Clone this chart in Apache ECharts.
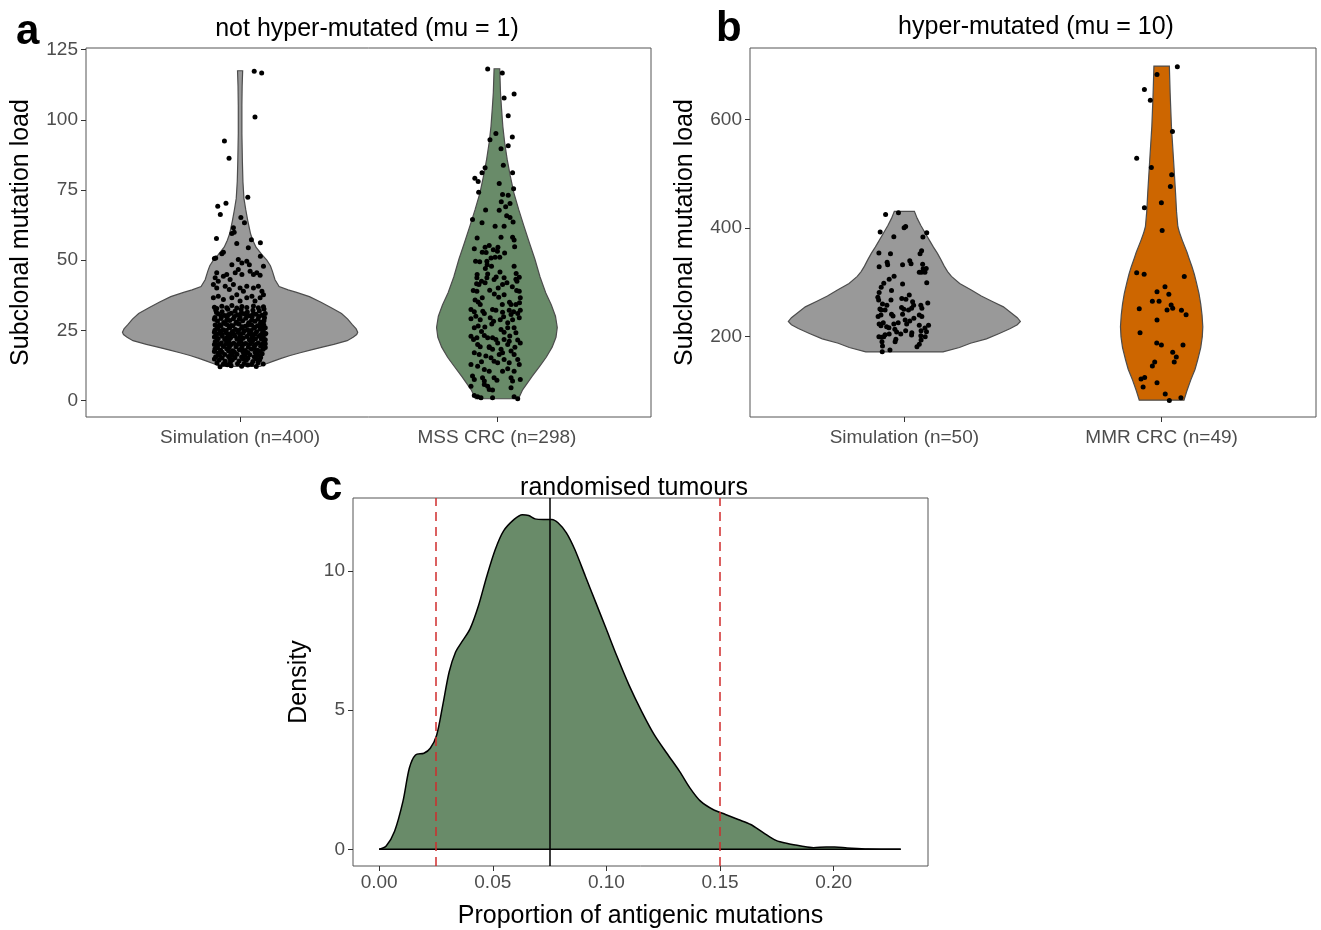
<!DOCTYPE html>
<html><head><meta charset="utf-8">
<script src="https://cdn.jsdelivr.net/npm/echarts@6/dist/echarts.min.js"></script>
<style>html,body{margin:0;padding:0;background:#fff}#c{width:1321px;height:930px}</style>
</head><body><div id="c"></div><script>
const FF = "'Liberation Sans', Arial, Helvetica, sans-serif";

// ---------- panel a ----------
const catsA = ['Simulation (n=400)', 'MSS CRC (n=298)'];
const yTicksA = [0, 25, 50, 75, 100, 125];
// violin outlines: [value, half width in category units]
const simAViolin = [[12.1,0.078],[13,0.10],[14,0.13],[15,0.16],[16,0.195],[17,0.234],[18,0.277],[19,0.32],[20,0.365],[21.3,0.417],[22.5,0.44],[23.5,0.454],[24.3,0.458],[25.5,0.452],[27,0.437],[29,0.419],[31,0.395],[33,0.355],[35,0.315],[37,0.27],[38.5,0.22],[39.4,0.187],[40.6,0.152],[43,0.136],[46,0.126],[48,0.118],[50,0.104],[52,0.085],[54.6,0.062],[57,0.05],[59.3,0.041],[64,0.03],[68,0.022],[72,0.015],[78,0.011],[85,0.009],[95,0.007],[105,0.007],[112,0.008],[117.5,0.010]];
const mssViolin = [[0.6,0.084],[3.8,0.1],[8.6,0.137],[12,0.165],[15.4,0.192],[19,0.215],[22.5,0.23],[26,0.235],[30,0.228],[34,0.212],[38.4,0.19],[44,0.168],[50.3,0.148],[56,0.127],[62.2,0.105],[68,0.085],[74,0.066],[80,0.052],[85.9,0.04],[92,0.03],[97.7,0.023],[104,0.018],[109.6,0.014],[118.2,0.011]];
// jittered points: [horizontal jitter (category units), value]
const simAPts = [
[0.055,117.3],[0.084,116.7],[0.058,101],[-0.061,92.5],[-0.043,86.3],[0.030,72.4],[-0.087,69.2],[-0.055,70.3],[-0.077,66.3],[0.003,65.2],[0.017,63.3],[-0.026,61.5],[-0.032,59.5],[-0.023,59.9],[-0.092,57.7],[0.044,57.3],[0.079,56.2],[-0.013,55.9],[0.032,54.4],[-0.065,52.8],[-0.071,52.3],[-0.095,50.8],[-0.1,50.6],[0.079,51.4],
[-0.032,48.4],[-0.007,50.2],[0.007,49],[0.026,49.6],[0.036,48.4],[0.091,47.8],[-0.091,45.5],[-0.097,43.7],[-0.085,42.5],[-0.065,44.3],[-0.052,44.9],[-0.039,43.1],[-0.019,45.5],[-0.007,46.7],[0.007,44.9],[0.039,46],[0.052,44.9],[0.065,45.5],[0.078,44.6],
[-0.104,41.3],[-0.091,40.1],[-0.058,40.7],[-0.042,39.5],[-0.026,41.3],[0,40.1],[0.013,38.9],[0.026,40.7],[0.052,40.1],[0.071,40.7],[0.085,38.9],
[-0.104,36.6],[-0.085,37.1],[-0.065,36],[-0.032,36.6],[-0.013,37.7],[0,35.4],[0.026,36.6],[0.046,37.1],[0.058,35.4],[0.078,36.6],[0.091,37.7],
[-0.1,33.2],[-0.091,32.8],[-0.071,33.6],[-0.052,33.0],[-0.032,33.8],[-0.013,32.9],[0.007,33.5],[0.026,33.1],[0.052,33.7],[0.071,33.0],[0.091,33.4],
[-0.095,32.2],[-0.07,31.6],[-0.048,32.5],[-0.02,31.8],[0.004,32.4],[0.028,31.5],[0.05,32.1],[0.075,31.9],[0.093,32.6],
[-0.085,30.8],[-0.06,30.3],[-0.035,31.1],[-0.01,30.5],[0.015,30.9],[0.04,30.2],[0.062,30.7],[0.085,30.4],
[-0.073,30.0],[-0.022,29.9],[0.028,30.1],[0.073,29.9],
[-0.098,29.6],[-0.074,29.2],[-0.05,29.9],[-0.026,29.1],[0,29.7],[0.022,29.3],[0.047,29.8],[0.07,29.0],[0.095,29.5],
[-0.088,28.3],[-0.064,27.8],[-0.04,28.5],[-0.014,27.9],[0.01,28.4],[0.034,27.7],[0.058,28.2],[0.081,27.9],
[-0.06,27.4],[-0.016,27.5],[0.033,27.3],[0.08,27.5],
[-0.097,26.9],[-0.075,26.5],[-0.052,27.1],[-0.028,26.6],[-0.004,27.2],[0.02,26.4],[0.045,26.9],[0.068,26.6],[0.092,27.0],
[-0.085,26.2],[-0.04,26.0],[0.008,26.3],[0.057,26.1],[0.083,26.0],
[-0.09,25.6],[-0.066,25.2],[-0.042,25.9],[-0.018,25.3],[0.006,25.7],[0.03,25.1],[0.054,25.8],[0.078,25.4],[0.098,25.9],
[-0.1,24.3],[-0.078,24.7],[-0.055,24.1],[-0.03,24.6],[-0.008,24.2],[0.017,24.8],[0.04,24.0],[0.064,24.5],[0.088,24.2],
[-0.082,23.9],[-0.036,23.8],[0.012,24.0],[0.058,23.7],[0.1,23.9],
[-0.093,23.4],[-0.069,22.9],[-0.046,23.6],[-0.021,23.0],[0.002,23.5],[0.026,22.8],[0.05,23.3],[0.073,22.9],[0.096,23.6],
[-0.1,22.6],[-0.05,22.5],[-0.002,22.7],[0.046,22.4],[0.09,22.5],
[-0.085,22.1],[-0.06,21.7],[-0.037,22.3],[-0.012,21.8],[0.012,22.2],[0.036,21.6],[0.06,22.0],[0.083,21.8],
[-0.097,20.9],[-0.073,20.5],[-0.05,21.1],[-0.025,20.4],[-0.002,20.8],[0.022,20.3],[0.046,20.9],[0.07,20.5],[0.094,21.0],
[-0.08,20.0],[-0.035,19.9],[0.014,20.1],[0.06,19.9],[0.098,20.2],
[-0.089,19.6],[-0.065,19.2],[-0.04,19.8],[-0.016,19.1],[0.008,19.5],[0.032,19.0],[0.056,19.6],[0.08,19.3],
[-0.098,18.3],[-0.076,17.9],[-0.052,18.4],[-0.028,17.7],[-0.003,18.1],[0.02,17.8],[0.044,18.3],[0.068,17.9],[0.09,18.2],
[-0.07,17.2],[-0.022,17.3],[0.03,17.1],[0.078,17.4],
[-0.086,16.9],[-0.06,16.4],[-0.036,17.0],[-0.012,16.5],[0.014,16.8],[0.038,16.3],[0.062,16.9],[0.086,16.6],
[-0.095,15.6],[-0.07,15.1],[-0.045,15.7],[-0.02,15.2],[0.006,15.5],[0.03,15.0],[0.055,15.6],[0.08,15.3],
[-0.082,14.4],[-0.058,14.0],[-0.03,14.5],[-0.004,14.1],[0.024,14.3],[0.05,13.9],[0.076,14.4],
[-0.09,13.3],[-0.065,13.0],[-0.038,13.5],[-0.01,13.1],[0.016,13.2],[0.045,12.9],[0.07,13.4],[0.09,13.0],
[-0.078,12.0],[0.006,12.2],[0.063,12.1],[-0.035,12.4],
[-0.092,31.3],[-0.045,30.6],[0.005,31.2],[0.052,30.9],[0.098,31.0],
[-0.1,28.9],[-0.052,28.7],[-0.003,28.9],[0.045,28.6],[0.093,28.4],
[-0.08,27.0],[-0.036,26.7],[0.03,26.8],[0.085,26.9],
[-0.098,25.0],[-0.054,24.9],[-0.006,24.9],[0.043,24.9],[0.09,25.0],
[-0.072,23.8],[-0.025,23.7],[0.035,23.7],[0.08,23.4],
[-0.09,21.4],[-0.043,21.3],[0.003,21.4],[0.05,21.5],[0.098,21.6],
[-0.1,19.9],[-0.055,20.1],[-0.008,20.0],[0.04,20.2],[0.085,20.0],
[-0.088,18.8],[-0.042,18.9],[0.007,18.7],[0.055,18.8],[0.098,18.9],
[-0.1,17.4],[-0.045,17.6],[0.01,17.5],[0.058,17.3],
[-0.08,16.0],[-0.03,16.1],[0.02,16.0],[0.07,16.1],
[-0.1,14.8],[-0.04,14.9],[0.012,14.8],[0.062,14.9],
[-0.05,12.7],[0.03,12.6]
];
const mssPts = [
[-0.036,118.1],[0.021,116.7],[0.067,109.2],[0.028,107.8],[0.044,101.5],[-0.004,95.1],[0.060,93.9],[-0.027,92.9],[0.044,90.8],[0.016,89.7],[0.025,83.8],[-0.046,82.9],[-0.058,81.1],[0.061,81.1],[-0.086,79.2],[-0.073,78],[0.009,77.3],[0.065,75.4],[-0.071,74.2],[0.022,73.4],[0.044,73.1],[0.017,70.8],[0.051,70.2],[0.034,69],[-0.044,67.9],[0.009,67.8],[0.038,65.8],[0.051,65.2],[0.063,63.6],[-0.095,64.5],[-0.058,63.3],[-0.007,62.1],[0.028,62.1],
[-0.077,57.9],[0.016,58.2],[0.061,58.2],[0.067,57.2],[-0.088,54.1],[-0.046,54.6],[-0.030,55.2],[0.004,54.6],[0.002,53.2],[-0.014,53.7],[-0.057,52.8],[-0.042,52.7],[0.069,54.8],[-0.023,50.8],[-0.007,51],[0.011,51],[-0.039,49.6],[-0.038,48.4],[-0.083,49.6],[-0.067,49.4],[-0.021,47.8],[0.067,47.8],
[-0.077,44.9],[-0.078,43.7],[-0.036,45.1],[-0.039,43.7],[-0.003,44],[-0.011,43.1],[0.028,43.7],[0.075,45.2],[0.087,43.9],[0.074,43.2],[-0.060,42.5],[-0.046,41.9],[-0.079,41.6],[-0.070,41.3],[0.022,41.3],[0.039,41.9],[0.078,42.5],[0.005,40.1],[-0.028,39.3],[-0.092,39.2],[-0.078,38.9],[0.077,39.2],[0.087,38.9],[0.028,37.7],[-0.057,36.6],[0.007,36.8],[0.091,36.6],[-0.073,35.1],[-0.065,34.2],[0.049,35],[0.055,34.2],[0.074,34.2],[0.088,34.8],[0.021,34.2],[-0.017,32.4],[-0.004,32.1],[-0.101,32.4],[-0.088,31.6],[0.048,32.1],[0.065,31.6],[-0.055,31.8],[0.022,31.4],[0.091,32.1],
[-0.049,31.0],[0.055,30.6],[0.081,31.0],
[-0.101,29.1],[-0.082,30],[-0.065,28.8],[-0.026,29.5],[-0.013,28.2],[0.013,28.8],[0.026,29.8],[0.042,27.7],[0.061,28.8],[0.087,29.5],[-0.088,25.9],[-0.073,26.5],[-0.047,26.2],[0.016,25.3],[0.028,24.3],[0.042,25.9],[0.067,25.9],[0.074,24.1],
[-0.101,22.9],[-0.091,21.7],[-0.078,22.3],[-0.049,23.1],[-0.036,22.3],[-0.017,22.3],[-0.004,21.7],[0.003,20.5],[0.028,21.7],[0.048,21.1],[0.042,19.9],[0.081,21.5],[0.091,20.5],[-0.075,19.9],[-0.065,19.1],[-0.030,19.1],[-0.017,18.2],[0.016,18.2],[0.022,17],[0.009,16.4],[0.055,17.6],[0.067,16.4],[-0.088,17],[-0.069,16.4],[-0.043,15.8],[-0.023,15.2],[-0.011,14],[0.003,13.4],[0.028,14.6],[0.048,13.4],[0.081,14.6],[0.087,12.8],[-0.101,12.8],[-0.075,12.2],[-0.049,11],[-0.030,10.4],[0.022,10.4],[0.042,11.3],[0.067,10.4],
[-0.095,8.7],[-0.088,7.5],[-0.056,8.1],[-0.049,6.9],[-0.011,8.1],[0,7.2],[0.055,8.1],[0.061,6.9],[0.091,7.5],[-0.101,5.1],[-0.049,5.7],[-0.036,5.1],[-0.030,3.9],[-0.017,3.7],[0.055,4.5],[-0.088,1.8],[-0.075,1.3],[-0.062,1],[-0.017,1],[0.067,1.3],[0.081,0.6],
[-0.06,24.6],[-0.02,27.2],[0.05,23.0],[-0.085,35.8],[0.012,45.8],[-0.01,37.9],[0.06,40.5],[-0.045,47.0],[0.03,52.5],[-0.03,18.9],[0.07,19.0],[-0.06,13.8]
];

// ---------- panel b ----------
const catsB = ['Simulation (n=50)', 'MMR CRC (n=49)'];
const yTicksB = [200, 400, 600];
const simBViolin = [[172,0.15],[180,0.214],[188,0.257],[196,0.319],[206,0.369],[215,0.412],[222,0.439],[228,0.451],[235,0.439],[245,0.412],[255,0.385],[265,0.342],[275,0.299],[286,0.260],[298,0.215],[311,0.183],[320,0.168],[330,0.155],[342,0.142],[354,0.128],[365,0.113],[378,0.097],[391,0.081],[405,0.064],[418,0.05],[430.9,0.039]];
const mmrViolin = [[83,0.087],[100,0.098],[120,0.113],[140,0.13],[157,0.14],[180,0.152],[200,0.158],[218.5,0.16],[240,0.157],[260,0.152],[280,0.145],[300,0.135],[315,0.127],[329,0.118],[345,0.106],[355,0.099],[366,0.09],[378,0.08],[391,0.07],[403,0.063],[430,0.058],[465,0.054],[520,0.047],[588,0.038],[650,0.033],[698.6,0.03]];
const simBPts = [
[-0.073,425.3],[-0.023,428.4],[0.005,403],[-0.001,400.7],[-0.094,392.8],[0.087,391.5],[-0.041,384],[0.072,383.6],[-0.099,354],[-0.054,352.7],[0.067,358.3],[0.061,352.7],[-0.067,337.4],[-0.065,332.4],[-0.098,328.7],[-0.007,332.4],[0.021,339.8],[0.026,334.3],[0.071,333.7],[0.073,325],[0.058,318.9],[0.067,318.9],[0.080,318.9],[0.085,325.6],[-0.040,311.5],[-0.059,306],[-0.080,298.6],[-0.007,297.3],[0.087,299.2],[-0.090,291.2],[-0.098,281.3],[-0.050,285],[-0.103,272.8],[-0.100,267.8],[-0.052,267.8],[0.019,277],[0.006,269.1],[-0.010,270.2],[0.091,262.2],[-0.085,260.4],[-0.095,251.2],[-0.090,249.3],[-0.068,258],[0.032,264.6],[0.036,258],[0.064,258],[0.068,252.4],[-0.011,253.6],[-0.002,250.6],[0.016,249.3],[0.028,252.4],[-0.075,249.3],[-0.050,241.4],[-0.044,238.2],[-0.007,241.4],[-0.091,240.1],[-0.102,237],[0.058,240.1],[0.068,237],[0.037,234],[0.021,229],[0.003,230.8],[0.009,223.5],[-0.024,225.9],[-0.098,223.5],[-0.082,225.9],[-0.091,220.3],[-0.041,223.5],[-0.069,218.5],[-0.060,216.6],[0.058,221],[0.094,221],[0.080,216],[0.065,211],[-0.037,213.7],[-0.030,208.7],[0.029,207.4],[0.028,203.1],[0.005,211],[0.086,209.2],[0.081,200],[-0.014,205],[-0.075,203.7],[-0.080,200],[-0.099,200],[-0.089,198.9],[-0.059,205],[-0.033,195.2],[-0.036,190.8],[-0.087,190.8],[0.064,201.8],[0.065,193.9],[-0.085,182.8],[0.058,186],[0.049,181.5],[-0.086,172.3],[-0.056,175.4]
];
const mmrPts = [
[0.061,697.5],[-0.018,683],[-0.067,655.6],[-0.044,635.8],[0.042,578],[-0.097,528.7],[-0.040,512],[0.039,498.6],[0.034,477],[-0.001,447],[-0.067,437.7],[0.002,395.8],[-0.097,318],[-0.068,315],[0.088,311],[0.013,291.8],[-0.018,283],[0.028,278],[-0.036,265.4],[-0.010,265.4],[0.037,258.5],[0.021,249.3],[0.043,252.4],[-0.087,251.7],[0.077,248.7],[0.095,240.6],[-0.018,230.8],[-0.084,207.4],[-0.019,188.4],[-0.001,184.7],[0.083,184.7],[0.043,171.2],[0.057,162.5],[0.049,153.3],[-0.027,153.3],[-0.036,145.9],[-0.066,125],[-0.080,121.9],[-0.072,107.1],[-0.018,115],[0.014,94.2],[0.030,82.5],[0.075,87.3]
];

// ---------- panel c ----------
const xTicksC = [0, 0.05, 0.10, 0.15, 0.20];
const yTicksC = [0, 5, 10];
const densX = [0,0.0031,0.0068,0.0105,0.0133,0.016,0.0197,0.0225,0.0253,0.028,0.0308,0.0336,0.0363,0.04,0.0437,0.0474,0.0511,0.0547,0.0594,0.063,0.0658,0.0686,0.0723,0.076,0.0787,0.0824,0.0861,0.0907,0.0953,0.0999,0.1045,0.11,0.1156,0.1211,0.1266,0.1322,0.1368,0.1414,0.1469,0.1524,0.158,0.1635,0.169,0.1746,0.1801,0.1856,0.1911,0.1967,0.2004,0.2059,0.2151,0.2295];
const densY = [0,0.12,0.65,1.73,2.92,3.39,3.45,3.63,4.1,5.18,6.37,7.08,7.44,7.92,8.75,9.82,10.77,11.43,11.85,12.02,11.99,11.87,11.85,11.85,11.73,11.37,10.77,9.82,8.87,7.92,6.96,5.89,4.94,4.11,3.45,2.8,2.2,1.73,1.43,1.25,1.07,0.89,0.6,0.32,0.2,0.12,0.06,0.08,0.08,0.05,0.01,0];
const redLines = [0.025, 0.15];
const meanLine = 0.075;

// ---------- helpers ----------
const tickStyle = {color: '#333', width: 1};
function catXAxis(grid, cats) {
  return {gridIndex: grid, type: 'value', min: 0.4, max: 2.6,
    axisLine: {show: false, onZero: false}, splitLine: {show: false},
    axisTick: {show: true, length: 5, customValues: [1, 2], lineStyle: tickStyle},
    axisLabel: {customValues: [1, 2], formatter: v => cats[Math.round(v) - 1], color: '#4d4d4d', fontSize: 19, margin: 11, fontFamily: FF}};
}
function valYAxis(grid, min, max, ticks, name, gap, fmt) {
  return {gridIndex: grid, type: 'value', min: min, max: max,
    name: name, nameLocation: 'middle', nameGap: gap, nameRotate: 90,
    nameTextStyle: {fontSize: 25, color: '#000', fontFamily: FF},
    axisLine: {show: false, onZero: false}, splitLine: {show: false},
    axisTick: {show: true, length: 5, customValues: ticks, lineStyle: tickStyle},
    axisLabel: {customValues: ticks, formatter: fmt || (v => String(v)), color: '#4d4d4d', fontSize: 19, margin: 8, fontFamily: FF}};
}
function violin(axis, cat, profile, color) {
  return {type: 'custom', xAxisIndex: axis, yAxisIndex: axis, z: 2, silent: true,
    data: [[cat, profile[0][0]]],
    renderItem: function (params, api) {
      const right = profile.map(p => api.coord([cat + p[1], p[0]]));
      const left = profile.slice().reverse().map(p => api.coord([cat - p[1], p[0]]));
      return {type: 'polygon', shape: {points: right.concat(left)},
        style: {fill: color, stroke: '#4d4d4d', lineWidth: 1.2}};
    }};
}
function jitter(axis, cat, pts) {
  return {type: 'scatter', xAxisIndex: axis, yAxisIndex: axis, z: 3, silent: true,
    symbolSize: 5, itemStyle: {color: '#000', opacity: 1},
    data: pts.map(p => [cat + p[0], p[1]])};
}

const grey = '#999999', green = '#698B69', orange = '#CD6600';
const titleStyle = {fontSize: 25, fontWeight: 'normal', color: '#000', fontFamily: FF};
const letterStyle = {fontSize: 42, fontWeight: 'bold', color: '#000', fontFamily: FF};
const red = '#d02c2c';

const option = {
  animation: false,
  backgroundColor: '#fff',
  title: [
    {text: 'a', left: 11, top: 6, textStyle: letterStyle},
    {text: 'b', left: 711, top: 3, textStyle: letterStyle},
    {text: 'c', left: 314, top: 462, textStyle: letterStyle},
    {text: 'not hyper-mutated (mu = 1)', left: 362, top: 12, textAlign: 'center', textStyle: titleStyle},
    {text: 'hyper-mutated (mu = 10)', left: 1031, top: 10, textAlign: 'center', textStyle: titleStyle},
    {text: 'randomised tumours', left: 629, top: 471, textAlign: 'center', textStyle: titleStyle}
  ],
  grid: [
    {left: 86, top: 48, width: 565, height: 369, show: true, borderColor: '#555', borderWidth: 1, backgroundColor: 'transparent'},
    {left: 750, top: 48, width: 566, height: 369, show: true, borderColor: '#555', borderWidth: 1, backgroundColor: 'transparent'},
    {left: 353, top: 498, width: 575, height: 369, show: true, borderColor: '#555', borderWidth: 1, backgroundColor: 'transparent'}
  ],
  xAxis: [
    catXAxis(0, catsA),
    catXAxis(1, catsB),
    {gridIndex: 2, type: 'value', min: -0.0115, max: 0.2415,
      name: 'Proportion of antigenic mutations', nameLocation: 'middle', nameGap: 38,
      nameTextStyle: {fontSize: 25, color: '#000', fontFamily: FF},
      axisLine: {show: false, onZero: false}, splitLine: {show: false},
      axisTick: {show: true, length: 5, customValues: xTicksC, lineStyle: tickStyle},
      axisLabel: {customValues: xTicksC, formatter: v => v.toFixed(2), color: '#4d4d4d', fontSize: 19, margin: 7, fontFamily: FF}}
  ],
  yAxis: [
    valYAxis(0, -5.9, 125.6, yTicksA, 'Subclonal mutation load', 52),
    valYAxis(1, 52, 732, yTicksB, 'Subclonal mutation load', 52),
    valYAxis(2, -0.6, 12.62, yTicksC, 'Density', 41)
  ],
  series: [
    violin(0, 1, simAViolin, grey),
    violin(0, 2, mssViolin, green),
    jitter(0, 1, simAPts),
    jitter(0, 2, mssPts),
    violin(1, 1, simBViolin, grey),
    violin(1, 2, mmrViolin, orange),
    jitter(1, 1, simBPts),
    jitter(1, 2, mmrPts),
    {type: 'line', xAxisIndex: 2, yAxisIndex: 2, z: 2, silent: true, smooth: 0.3, symbol: 'none',
      data: densX.map((x, i) => [x, densY[i]]),
      lineStyle: {color: '#000', width: 1.5},
      areaStyle: {color: green, opacity: 1}},
    {type: 'line', xAxisIndex: 2, yAxisIndex: 2, z: 4, silent: true, symbol: 'none',
      data: [[densX[0], 0], [densX[densX.length - 1], 0]],
      lineStyle: {color: '#000', width: 1.5},
      markLine: {silent: true, symbol: ['none', 'none'], label: {show: false}, precision: 6, z: 5,
        data: [
          {xAxis: redLines[0], lineStyle: {color: red, type: [9, 6], width: 1.5}},
          {xAxis: meanLine, lineStyle: {color: '#000', type: 'solid', width: 1.5}},
          {xAxis: redLines[1], lineStyle: {color: red, type: [9, 6], width: 1.5}}
        ]}}
  ]
};
const chart = echarts.init(document.getElementById('c'), null, {renderer: 'canvas'});
chart.setOption(option);
</script></body></html>
